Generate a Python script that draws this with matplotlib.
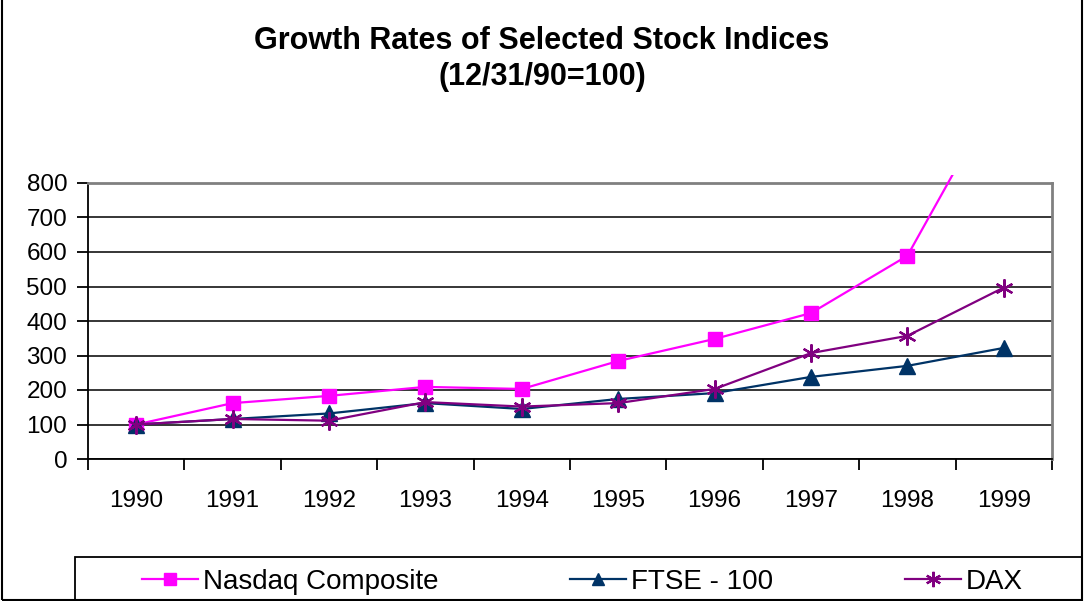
import matplotlib
matplotlib.use("Agg")
import matplotlib.pyplot as plt
from matplotlib.patches import Rectangle

plt.rcParams['font.family'] = ['Liberation Sans', 'DejaVu Sans']

years = ['1990', '1991', '1992', '1993', '1994', '1995', '1996', '1997', '1998', '1999']
nasdaq = [100, 162, 183, 209, 203, 284, 348, 423, 589, 1090]
ftse = [100, 116, 132, 162, 145, 174, 191, 238, 270, 322]
dax = [100, 116, 111, 165, 152, 162, 203, 307, 357, 497]
series_names = ['Nasdaq Composite', 'FTSE - 100', 'DAX']
title = 'Growth Rates of Selected Stock Indices\n(12/31/90=100)'
yticks = [0, 100, 200, 300, 400, 500, 600, 700, 800]

W, H = 1084, 601
FS = 17.5
LFS = 20
fig = plt.figure(figsize=(W / 100, H / 100), dpi=100)
ax = fig.add_axes([88 / W, 1 - 459 / H, (1052 - 88) / W, (459 - 183) / H])

x = list(range(len(years)))
l1, = ax.plot(x, nasdaq, color='#FF00FF', lw=1.6, marker='s', ms=9.5,
              mfc='#FF00FF', mec='#FF00FF', label=series_names[0], zorder=3)
l2, = ax.plot(x, ftse, color='#003366', lw=1.6, marker='^', ms=11,
              mfc='#003366', mec='#003366', label=series_names[1], zorder=3)
l3, = ax.plot(x, dax, color='#800080', lw=1.6, marker=(6, 2, 0), ms=13,
              mew=1.6, mec='#800080', label=series_names[2], zorder=4)

clip = Rectangle((0, 0), 1, 1 + 8 / 276, transform=ax.transAxes, visible=False)
ax.add_patch(clip)
for ln in (l1, l2, l3):
    ln.set_clip_path(clip)

ax.set_xlim(-0.5, len(years) - 0.5)
ax.set_ylim(0, 800)
ax.set_yticks(yticks)
ax.set_yticklabels([str(v) for v in yticks])
ax.yaxis.grid(True, color='black', lw=1.1)
ax.set_axisbelow(True)

ax.set_xticks([i - 0.5 for i in range(len(years) + 1)])
ax.set_xticklabels([])
ax.set_xticks(x, minor=True)
ax.set_xticklabels(years, minor=True)
ax.tick_params(axis='x', which='major', direction='out', length=8, width=1.3, color='black')
ax.tick_params(axis='x', which='minor', length=0, pad=22, labelsize=FS)
ax.tick_params(axis='y', direction='out', length=8, width=1.3, pad=7, labelsize=FS)

ax.spines['left'].set_color('black')
ax.spines['bottom'].set_color('black')
ax.spines['left'].set_linewidth(1.3)
ax.spines['bottom'].set_linewidth(1.3)
ax.spines['top'].set_color('#808080')
ax.spines['right'].set_color('#808080')
ax.spines['top'].set_linewidth(2)
ax.spines['right'].set_linewidth(2)

fig.text(542 / W, 1 - 59 / H, title, ha='center', va='center', fontsize=22,
         fontweight='bold', linespacing=1.3)

# legend frame
frame = Rectangle((75 / W, -0.1), (1082 - 75) / W, 0.1 + (601 - 557) / H,
                  transform=fig.transFigure, fill=False, edgecolor='black', lw=1.3)
fig.patches.append(frame)
handle_x = [142, 570, 905]
for ln, hx in zip((l1, l2, l3), handle_x):
    fig.legend(handles=[ln], loc='center left', bbox_to_anchor=(hx / W, 1 - 582 / H),
               fontsize=LFS, frameon=False, handlelength=2.0, handletextpad=0.2,
               borderpad=0, borderaxespad=0, markerscale=0.85)

border = Rectangle((2 / W, 1.5 / H), (1082 - 2) / W, 1.5, transform=fig.transFigure,
                   fill=False, edgecolor='black', lw=1.5)
fig.patches.append(border)

fig.savefig('out.png', dpi=100)
